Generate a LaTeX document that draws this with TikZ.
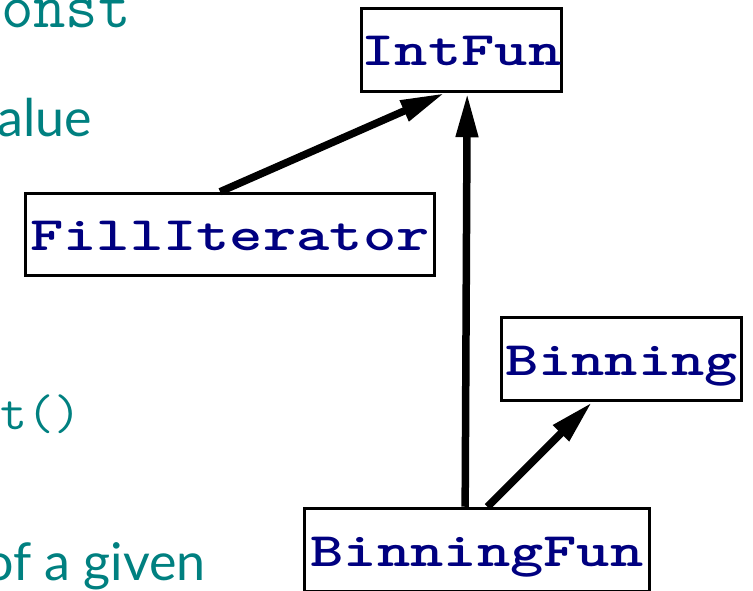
\documentclass[tikz,border=0pt]{standalone}
\usepackage{fontspec}
\newfontfamily\slidesans{Lato}
\usetikzlibrary{arrows.meta,calc}
\definecolor{codeteal}{RGB}{0,128,128}
\definecolor{classnavy}{RGB}{0,0,128}
\newcommand{\classname}[1]{\scalebox{1.32}[1]{#1}}
\tikzset{
  classbox/.style={draw=black, line width=3.5pt, fill=white, inner sep=0pt,
    minimum height=83pt, text height=40pt, text depth=8pt,
    font=\fontsize{48}{54}\selectfont\ttfamily\bfseries, text=classnavy},
  inherit/.style={line width=7.5pt, line cap=butt,
    -{Triangle[length=44pt,width=21pt]}},
  codetext/.style={inner sep=0pt, text=codeteal, font=\ttfamily},
  prosetext/.style={inner sep=0pt, text=codeteal, font=\fontsize{52}{60}\selectfont\slidesans},
}
\begin{document}
\begin{tikzpicture}[x=1pt,y=-1pt]
\useasboundingbox (0,0) rectangle (753,591);
\clip (0,0) rectangle (753,591);

% cut-off slide text on the left
\node[codetext, font=\fontsize{63}{70}\selectfont\ttfamily, anchor=base east] (t1) at (131,28) {onst};
\node[prosetext, anchor=base east] (t2) at (92,137) {alue};
\node[codetext, font=\fontsize{50}{56}\selectfont\ttfamily, anchor=base east] (t3) at (81,429) {\scalebox{1.04}[1]{t()}};
\node[prosetext, anchor=base east] (t4) at (206,580) {of a given};

% class boxes
\node[classbox, minimum width=194pt] (intfun) at (461.5,50) {\classname{IntFun}};
\node[classbox, minimum width=409pt, minimum height=82pt] (fill) at (230,234.5) {\classname{FillIterator}};
\node[classbox, minimum width=240pt] (binning) at (621.5,359) {\classname{Binning}};
\node[classbox, minimum width=345pt] (binfun) at (477,550) {\classname{BinningFun}};

% inheritance arrows
\draw[inherit] ($(fill.north west)!0.476!(fill.north east)$) -- ($(intfun.south west)!0.416!(intfun.south east)$);
\draw[inherit] ($(binfun.north west)!0.466!(binfun.north east)$) -- ($(intfun.south west)!0.528!(intfun.south east)$);
\draw[inherit] ($(binfun.north west)!0.53!(binfun.north east)$) -- ($(binning.south west)!0.379!(binning.south east)$);
\end{tikzpicture}
\end{document}
